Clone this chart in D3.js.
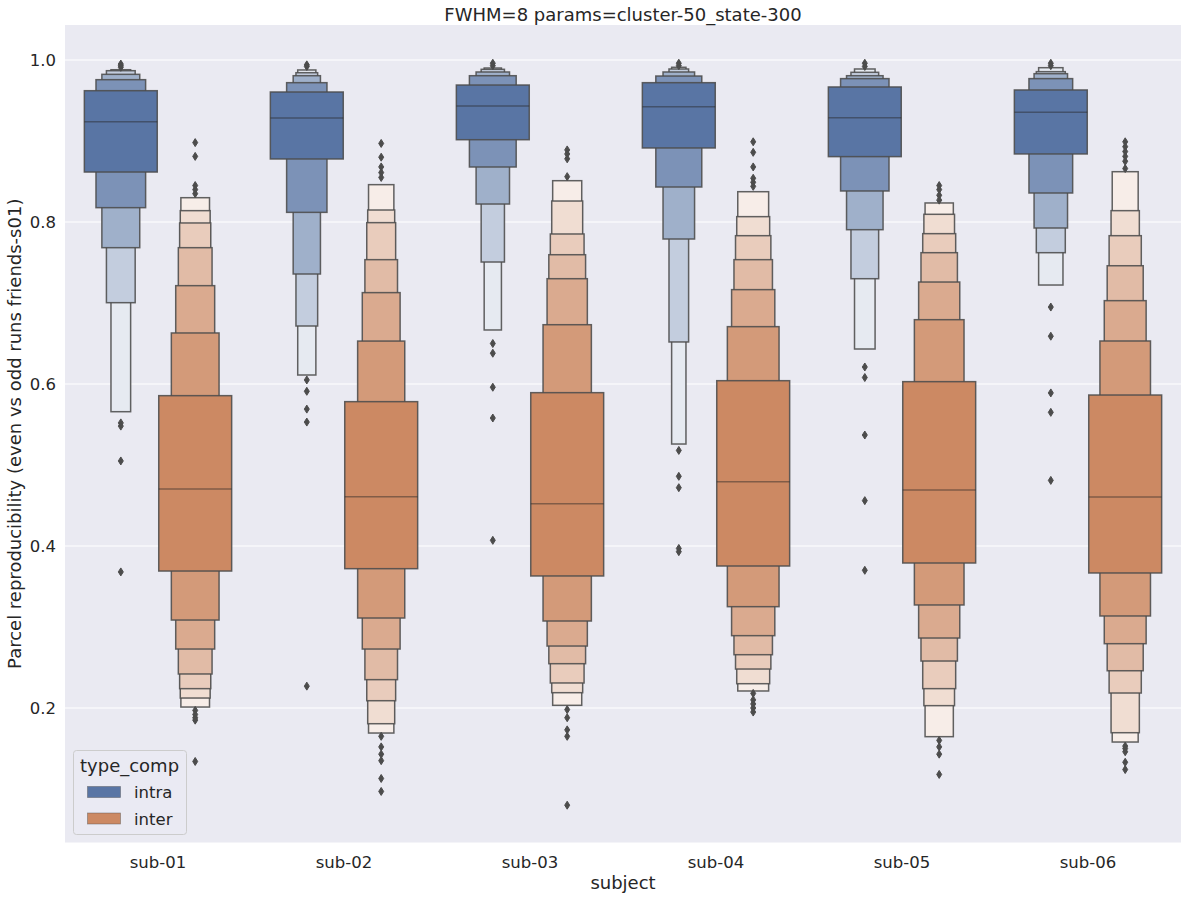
<!DOCTYPE html>
<html><head><meta charset="utf-8">
<script src="https://cdn.jsdelivr.net/npm/d3@7"></script>
<style>body{margin:0;background:#fff} svg{display:block} text{font-family:"DejaVu Sans",sans-serif;fill:#262626}</style>
</head><body>
<svg id="c" width="1188" height="899"></svg>
<script>
const subjects = ["sub-01","sub-02","sub-03","sub-04","sub-05","sub-06"];
const hues = ["intra","inter"];
const hueColors = ["#4c72b0","#dd8452"];
const yTicks = [0.2,0.4,0.6,0.8,1.0];

// letter-value box ends, innermost (IQR) -> outermost
const intraMed = [0.9239,0.9284,0.9432,0.9424,0.9288,0.9354];
const intraLow = [
 [0.8617,0.8177,0.7683,0.7004,0.5658],
 [0.8778,0.8119,0.7358,0.6716,0.6111],
 [0.9016,0.8679,0.8222,0.7506,0.6667],
 [0.8914,0.8432,0.7790,0.6519,0.5259],
 [0.8807,0.8383,0.7905,0.7300,0.6432],
 [0.8840,0.8358,0.7926,0.7621,0.7222]];
const intraHigh = [
 [0.9621,0.9757,0.9823,0.9868,0.9880],
 [0.9605,0.9720,0.9806,0.9843,0.9877],
 [0.9691,0.9806,0.9852,0.9885,0.9901],
 [0.9720,0.9802,0.9852,0.9889,0.9910],
 [0.9667,0.9770,0.9806,0.9848,0.9889],
 [0.9630,0.9770,0.9831,0.9856,0.9905]];
const intraOut = [
 [0.991,0.993,0.995,0.552,0.548,0.505,0.368],
 [0.992,0.994,0.605,0.591,0.569,0.553,0.227],
 [0.993,0.996,0.650,0.638,0.596,0.558,0.407],
 [0.993,0.996,0.518,0.486,0.472,0.397,0.393],
 [0.992,0.996,0.621,0.608,0.537,0.456,0.370],
 [0.993,0.996,0.695,0.659,0.589,0.565,0.481]];

const interMed = [0.4704,0.4609,0.4523,0.4794,0.4691,0.4605];
const interLow = [
 [0.3691,0.3086,0.2728,0.2420,0.2239,0.2123,0.2012],
 [0.3720,0.3111,0.2728,0.2350,0.2090,0.1806,0.1691],
 [0.3630,0.3074,0.2765,0.2547,0.2309,0.2189,0.2033],
 [0.3753,0.3251,0.2893,0.2658,0.2481,0.2300,0.2210],
 [0.3790,0.3272,0.2864,0.2580,0.2239,0.2029,0.1646],
 [0.3667,0.3136,0.2794,0.2460,0.2185,0.1695,0.1580]];
const interHigh = [
 [0.5856,0.6630,0.7214,0.7683,0.7988,0.8140,0.8300],
 [0.5782,0.6530,0.7128,0.7535,0.7992,0.8148,0.8461],
 [0.5893,0.6732,0.7300,0.7596,0.7852,0.8259,0.8510],
 [0.6041,0.6708,0.7165,0.7535,0.7831,0.8066,0.8374],
 [0.6029,0.6794,0.7259,0.7621,0.7856,0.8095,0.8235],
 [0.5864,0.6531,0.7029,0.7460,0.7831,0.8140,0.8621]];
const interOut = [
 [0.898,0.881,0.845,0.840,0.835,0.197,0.192,0.188,0.185,0.134],
 [0.897,0.880,0.868,0.861,0.855,0.165,0.152,0.143,0.135,0.113,0.097],
 [0.889,0.884,0.878,0.856,0.198,0.188,0.173,0.165,0.080],
 [0.899,0.886,0.868,0.854,0.849,0.844,0.218,0.210,0.205,0.200,0.195],
 [0.845,0.840,0.833,0.827,0.160,0.152,0.143,0.118],
 [0.899,0.893,0.887,0.881,0.875,0.866,0.153,0.150,0.146,0.133,0.124]];

const m = {left:65, right:1181, top:25, bottom:842.5};
const svg = d3.select("#c");
const bg = "#eaeaf2", gray = "#4c4c4c";

function desat(c, p){ const h = d3.hsl(c); h.s *= p; return d3.rgb(h); }
function mix(c, t){ return d3.rgb(c.r+(255-c.r)*t, c.g+(255-c.g)*t, c.b+(255-c.b)*t); }
const baseCols = hueColors.map(c => desat(c, 0.75));

const x = d3.scaleBand().domain(subjects).range([m.left, m.right]).padding(0);
const y = d3.scaleLinear().domain([(870-m.bottom)/810, (870-m.top)/810]).range([m.bottom, m.top]);
const hueOff = d3.scaleBand().domain(hues).range([-0.4, 0.4]);
const nestedW = 0.4*0.98;

svg.append("rect").attr("x",m.left).attr("y",m.top).attr("width",m.right-m.left).attr("height",m.bottom-m.top).attr("fill",bg);

svg.append("g").selectAll("line").data(yTicks).join("line")
  .attr("x1",m.left).attr("x2",m.right).attr("y1",d=>y(d)).attr("y2",d=>y(d))
  .attr("stroke","#fff").attr("stroke-width",1.2);

const series = [
  {med:intraMed, low:intraLow, high:intraHigh, out:intraOut},
  {med:interMed, low:interLow, high:interHigh, out:interOut}];

const bw = x.bandwidth();
const g = svg.append("g");
series.forEach((s, hi) => {
  subjects.forEach((sub, si) => {
    const cx = x(sub) + bw/2 + (hueOff(hues[hi]) + hueOff.bandwidth()/2)*bw;
    const full = nestedW*bw;
    const lows = s.low[si], highs = s.high[si];
    const n = lows.length;
    const raw = lows.map((lo,j) => (1 - Math.pow(2, -(j+3))) / (highs[j]-lo));
    const mx = d3.max(raw);
    for (let j = n-1; j >= 0; j--) {
      const w = full*raw[j]/mx;
      const col = mix(baseCols[hi], 0.85*j/(n-1));
      g.append("rect").attr("x",cx-w/2).attr("y",y(highs[j]))
        .attr("width",w).attr("height",y(lows[j])-y(highs[j]))
        .attr("fill",col).attr("stroke",gray).attr("stroke-opacity",0.88).attr("stroke-width",1.5);
    }
    g.append("line").attr("x1",cx-full/2).attr("x2",cx+full/2)
      .attr("y1",y(s.med[si])).attr("y2",y(s.med[si]))
      .attr("stroke","#262626").attr("stroke-opacity",0.45).attr("stroke-width",1.5);
    g.append("g").selectAll("path").data(s.out[si]).join("path")
      .attr("d", d => `M${cx},${y(d)-4}L${cx+2.5},${y(d)}L${cx},${y(d)+4}L${cx-2.5},${y(d)}Z`)
      .attr("fill",gray).attr("stroke",gray).attr("stroke-width",1);
  });
});

svg.append("g").selectAll("text").data(yTicks).join("text")
  .attr("x",56).attr("y",d=>y(d)).attr("dy","0.36em").attr("text-anchor","end")
  .style("font-size","16.5px").text(d=>d.toFixed(1));
svg.append("g").selectAll("text").data(subjects).join("text")
  .attr("x",d=>x(d)+bw/2).attr("y",868).attr("text-anchor","middle")
  .style("font-size","16.5px").text(d=>d);
svg.append("text").attr("x",(m.left+m.right)/2).attr("y",888.5).attr("text-anchor","middle")
  .style("font-size","18px").text("subject");
svg.append("text").attr("transform",`translate(21,${(m.top+m.bottom)/2}) rotate(-90)`)
  .attr("text-anchor","middle").style("font-size","18px")
  .text("Parcel reproducibility (even vs odd runs friends-s01)");
svg.append("text").attr("x",(m.left+m.right)/2).attr("y",20.5).attr("text-anchor","middle")
  .style("font-size","18px").text("FWHM=8 params=cluster-50_state-300");

const lg = svg.append("g");
lg.append("rect").attr("x",73.5).attr("y",750.5).attr("width",113).attr("height",84).attr("rx",3)
  .attr("fill",bg).attr("fill-opacity",0.8).attr("stroke","#cccccc").attr("stroke-width",1);
lg.append("text").attr("x",80).attr("y",771.5).style("font-size","18px").text("type_comp");
hues.forEach((h,i) => {
  const yy = 786.5 + i*26.5;
  lg.append("rect").attr("x",87.5).attr("y",yy).attr("width",33).attr("height",11)
    .attr("fill",baseCols[i]).attr("stroke",gray).attr("stroke-opacity",0.5).attr("stroke-width",0.8);
  lg.append("text").attr("x",134).attr("y",yy+11.5).style("font-size","16.5px").text(h);
});
</script>
</body></html>
